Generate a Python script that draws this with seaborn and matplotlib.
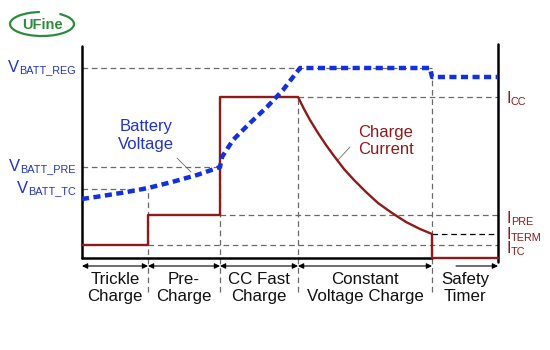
import matplotlib
matplotlib.use("Agg")
import matplotlib.pyplot as plt
from matplotlib.patches import Arc
import pandas as pd
import seaborn as sns

# phases of the charge cycle (time axis, arbitrary units)
phase_edges = [0, 66, 138, 216, 350, 416]
phase_labels = ["Trickle\nCharge", "Pre-\nCharge", "CC Fast\nCharge",
                "Constant\nVoltage Charge", "Safety\nTimer"]

# threshold levels (arbitrary units)
v_levels = {"BATT_REG": 190, "BATT_PRE": 91, "BATT_TC": 69}
i_levels = {"CC": 161, "PRE": 43, "TERM": 24, "TC": 13}

# battery voltage curve
voltage_t = [0, 20, 45, 66, 90, 115, 138, 140, 151, 168, 185, 201, 218, 348, 350, 416]
voltage_v = [59, 62, 66, 70, 76, 83, 91, 101, 118, 135, 151, 168, 190, 190, 181, 181]

# charge current curve
current_t = [0, 66, 66, 138, 138, 216, 222, 228, 236, 244, 252, 262, 272, 284,
             296, 310, 324, 338, 350, 350, 416]
current_i = [13, 13, 43, 43, 161, 161, 149, 138, 125, 113, 102, 89, 78, 66,
             55, 45, 36, 29, 24, 0, 0]

blue = "#1230e0"
blue_txt = "#2233cc"
red = "#8e1a1a"
grey = "#6a6a6a"

sns.set_style("white")
plt.rcParams["font.family"] = ["Liberation Sans", "DejaVu Sans"]

fig = plt.figure(figsize=(5.5, 3.5), dpi=100)
ax = fig.add_axes([0, 0, 1, 1])

t0, t_end = phase_edges[0], phase_edges[-1]
dash = (0, (4.5, 3))


def hguide(y, x0, x1, color=grey):
    ax.plot([x0, x1], [y, y], color=color, lw=0.9, ls=dash, zorder=1)


# guide lines
hguide(v_levels["BATT_REG"], t0, phase_edges[4])
hguide(v_levels["BATT_PRE"], t0, phase_edges[2])
hguide(v_levels["BATT_TC"], t0, phase_edges[1])
hguide(i_levels["CC"], phase_edges[3], t_end)
hguide(i_levels["PRE"], phase_edges[2], t_end)
hguide(i_levels["TERM"], phase_edges[4], t_end, color="black")
hguide(i_levels["TC"], phase_edges[1], t_end)

bottom = -34
tops = [v_levels["BATT_TC"], v_levels["BATT_PRE"], i_levels["CC"], 188]
for x, top in zip(phase_edges[1:5], tops):
    ax.plot([x, x], [bottom, top], color=grey, lw=0.9, ls=dash, zorder=1)

# axes frame
ax.plot([t0, t0], [0, 212], color="black", lw=1.8, zorder=2)
ax.plot([t_end, t_end], [-4, 214], color="black", lw=1.8, zorder=2)
ax.plot([t0, phase_edges[4]], [0, 0], color="black", lw=1.8, zorder=2)

# curves
df_v = pd.DataFrame({"t": voltage_t, "v": voltage_v})
df_i = pd.DataFrame({"t": current_t, "i": current_i})
sns.lineplot(data=df_i, x="t", y="i", ax=ax, color=red, lw=1.7,
             estimator=None, sort=False, zorder=3)
sns.lineplot(data=df_v, x="t", y="v", ax=ax, color=blue, lw=3.2,
             estimator=None, sort=False, zorder=4, ls=(0, (1.6, 1.0)))
ax.set_xlim(-82, 468)
ax.set_ylim(-92, 258)
ax.axis("off")

# level labels: main letter plus a smaller subscript
for name, y in v_levels.items():
    sub = ax.text(-6, y - 5, name, color=blue_txt, fontsize=7.8,
                  ha="right", va="baseline")
    ax.annotate("V", xy=(0, 0), xycoords=sub, xytext=(-0.3, -0.2),
                textcoords="offset points", color=blue_txt, fontsize=12,
                ha="right", va="bottom")

i_offsets = {"CC": 6, "PRE": 8, "TERM": 5, "TC": 8}
for name, y in i_levels.items():
    main = ax.text(t_end + 9, y - i_offsets[name], "I", color=red,
                   fontsize=11.5, ha="left", va="baseline")
    ax.annotate(name, xy=(1, 0), xycoords=main, xytext=(-0.6, -0.6),
                textcoords="offset points", color=red, fontsize=7.8,
                ha="left", va="bottom")

# phase arrows and labels
arrow_y = -8
for k, lab in enumerate(phase_labels):
    a, b = phase_edges[k], phase_edges[k + 1]
    if k == len(phase_labels) - 1:
        style, start = "-|>", a + 24
    else:
        style, start = "<|-|>", a
    ax.annotate("", xy=(b, arrow_y), xytext=(start, arrow_y),
                arrowprops=dict(arrowstyle=style, lw=0.8, color="black",
                                mutation_scale=8, shrinkA=0, shrinkB=0))
    ax.text((a + b) / 2, -30, lab, ha="center", va="center", fontsize=12.2,
            linespacing=1.2, color="#111111")

# curve annotations
ax.text(64, 122, "Battery\nVoltage", color=blue_txt, fontsize=12, ha="center",
        va="center", linespacing=1.25)
ax.plot([95, 109], [100, 86], color=grey, lw=0.6)
ax.text(304, 117, "Charge\nCurrent", color=red, fontsize=12, ha="center",
        va="center", linespacing=1.25)
ax.plot([268, 256], [111, 98], color=grey, lw=0.6)

# logo
green = "#2e8b3e"
ax.add_patch(Arc((-40, 234), 64, 24, theta1=100, theta2=30, color=green, lw=1.6))
ax.text(-40, 233, "UFine", color=green, fontsize=10.5, fontweight="bold",
        ha="center", va="center")

fig.savefig("out.png", dpi=100)
